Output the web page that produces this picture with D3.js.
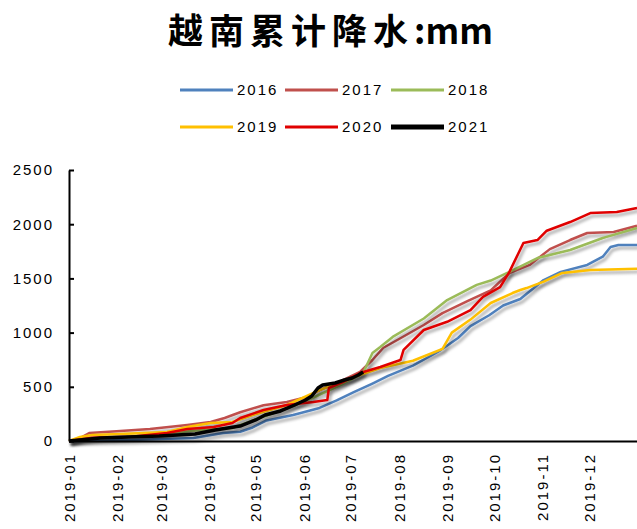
<!DOCTYPE html>
<html><head><meta charset="utf-8">
<script src="https://cdn.jsdelivr.net/npm/d3@7"></script>
<style>
html,body{margin:0;padding:0;background:#fff;}
svg{display:block;}
</style></head>
<body>
<script>
// ---- data (day-of-year offsets from 2019-01-01, cumulative mm) ----
const titleCjk = "越南累计降水";
const titleUnit = ":mm";
const seriesNames = ["2016","2017","2018","2019","2020","2021"];
const seriesColors = ["#4F81BD","#C0504D","#9BBB59","#FFC000","#E00000","#000000"];
const monthLabels = ["2019-01","2019-02","2019-03","2019-04","2019-05","2019-06","2019-07","2019-08","2019-09","2019-10","2019-11","2019-12"];
const yTicks = [0,500,1000,1500,2000,2500];

const days2016 = [0,20,40,80,99,110,118,127,144,161,172,183,195,205,221,238,250,258,270,279,290,305,316,333,343,348,353,365];
const vals2016 = [0,5,10,28,74,85,125,190,240,305,375,450,530,600,695,830,950,1060,1160,1250,1310,1485,1560,1624,1700,1790,1808,1808];

const days2017 = [0,5,13,33,52,76,91,100,110,125,140,153,161,172,187,195,202,211,228,240,256,271,283,296,309,322,333,350,365];
const vals2017 = [0,10,74,92,111,148,175,212,265,330,360,406,470,535,637,747,860,932,1070,1180,1290,1390,1550,1624,1770,1854,1919,1928,1985];

const days2018 = [0,10,37,84,105,120,140,160,175,189,195,200,208,228,243,262,271,283,301,322,343,346,365];
const vals2018 = [0,20,37,100,120,200,300,420,520,627,812,867,960,1130,1300,1440,1480,1560,1688,1762,1873,1885,1965];

const days2019 = [0,7,15,33,63,76,91,105,118,140,161,183,200,221,240,246,258,271,285,290,294,305,317,335,365];
const vals2019 = [0,37,55,65,83,129,166,175,240,332,470,590,673,740,850,1000,1120,1273,1365,1393,1411,1470,1550,1577,1590];

const days2020 = [0,15,40,63,76,93,105,110,125,140,157,166,167,176,187,200,213,215,228,243,258,266,277,283,292,301,307,322,335,352,365];
const vals2020 = [0,30,40,74,111,129,166,212,286,332,360,378,489,544,627,683,747,840,1024,1100,1208,1330,1420,1560,1827,1854,1940,2020,2103,2112,2149];

const days2021 = [0,7,20,38,58,81,94,110,120,126,136,145,152,156,160,163,171,177,182,186,189];
const vals2021 = [0,9,28,37,46,65,102,138,194,240,277,332,378,415,489,517,535,563,581,609,637];

const allDays = [days2016,days2017,days2018,days2019,days2020,days2021];
const allVals = [vals2016,vals2017,vals2018,vals2019,vals2020,vals2021];

(function(){
// ---- layout ----
const W = 637, H = 529;
const pL = 69, pR = 637, pT = 170, pB = 441;
const start = new Date(2019,0,1);
const toDate = d => d3.timeDay.offset(start, d);

const svg = d3.select("body").append("svg").attr("width", W).attr("height", H);

const defs = svg.append("defs");
const f = defs.append("filter").attr("id","shadow").attr("x","-5%").attr("y","-5%").attr("width","115%").attr("height","120%");
f.append("feDropShadow").attr("dx",2).attr("dy",3).attr("stdDeviation",1.6)
 .attr("flood-color","#000").attr("flood-opacity",0.35);

const x = d3.scaleTime().domain([start, new Date(2020,0,1)]).range([pL, pR]);
const y = d3.scaleLinear().domain([0,2500]).range([pB, pT]);

// title
const t = svg.append("text").attr("x", 168).attr("y", 44)
  .attr("font-family","'Noto Sans CJK SC', sans-serif").attr("font-weight","bold")
  .attr("font-size", 35).attr("fill","#000");
t.append("tspan").attr("letter-spacing", 6).text(titleCjk);
t.append("tspan").attr("letter-spacing", 0).text(titleUnit);

// legend
const legX = [180, 285, 391];
const legY = [90, 127];
seriesNames.forEach((name, i) => {
  const lx = legX[i % 3], ly = legY[Math.floor(i / 3)];
  const g = svg.append("g");
  g.append("line").attr("x1", lx).attr("x2", lx + 53).attr("y1", ly).attr("y2", ly)
    .attr("stroke", seriesColors[i]).attr("stroke-width", i === 5 ? 5 : 3);
  g.append("text").attr("x", lx + 57).attr("y", ly).attr("dy","0.35em")
    .attr("font-family","'Liberation Sans', Arial, sans-serif").attr("font-size", 15)
    .attr("letter-spacing", 2).attr("fill","#000").text(name);
});

// lines
const line = d3.line().x(d => x(toDate(d[0]))).y(d => y(d[1]));
allDays.forEach((days, i) => {
  const pts = days.map((d, j) => [d, allVals[i][j]]);
  svg.append("path").datum(pts).attr("d", line).attr("fill","none")
    .attr("stroke", seriesColors[i]).attr("stroke-width", i === 5 ? 3.5 : 2.5)
    .attr("stroke-linejoin","round").attr("filter","url(#shadow)");
});

// y axis
const yAxis = d3.axisLeft(y).tickValues(yTicks).tickFormat(d3.format("d"))
  .tickSizeInner(-5).tickSizeOuter(0).tickPadding(15);
const yg = svg.append("g").attr("transform", `translate(${pL},0)`).call(yAxis);
yg.select(".domain").attr("stroke","#000").attr("stroke-width",2);
yg.selectAll(".tick line").attr("stroke","#000").attr("stroke-width",2);
yg.selectAll(".tick text").attr("font-family","'Liberation Sans', Arial, sans-serif")
  .attr("font-size",15).attr("letter-spacing",2).attr("fill","#000");

// x axis
const monthDates = monthLabels.map((m, i) => new Date(2019, i, 1));
const xAxis = d3.axisBottom(x).tickValues(monthDates).tickSize(0)
  .tickFormat((d, i) => monthLabels[i]);
const xg = svg.append("g").attr("transform", `translate(0,${pB})`).call(xAxis);
xg.select(".domain").attr("stroke","#000").attr("stroke-width",2);
xg.selectAll(".tick text").attr("font-family","'Liberation Sans', Arial, sans-serif")
  .attr("font-size",15).attr("letter-spacing",2).attr("fill","#000")
  .attr("text-anchor","end").attr("transform","rotate(-90)")
  .attr("x",-12).attr("y",0).attr("dy","0.35em");
})();
</script>
</body></html>
